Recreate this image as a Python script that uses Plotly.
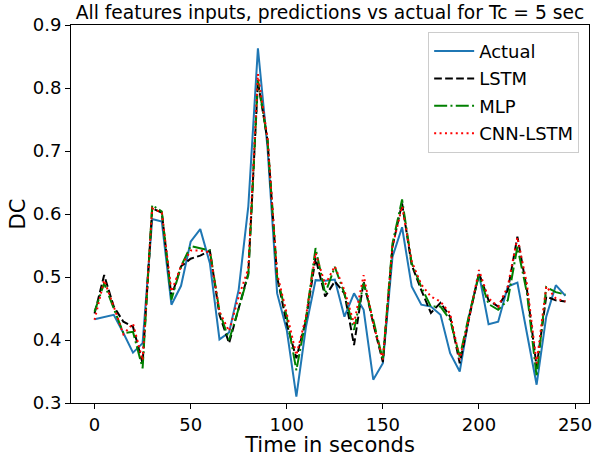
import plotly.graph_objects as go

time_s = list(range(0, 250, 5))

actual = [0.433, 0.436, 0.440, 0.411, 0.380, 0.395, 0.592, 0.588, 0.456, 0.486,
          0.556, 0.576, 0.522, 0.401, 0.412, 0.480, 0.612, 0.863, 0.705, 0.474,
          0.416, 0.310, 0.421, 0.495, 0.494, 0.496, 0.437, 0.474, 0.448, 0.337,
          0.363, 0.532, 0.579, 0.485, 0.456, 0.453, 0.440, 0.379, 0.350, 0.440,
          0.505, 0.425, 0.429, 0.485, 0.491, 0.410, 0.329, 0.437, 0.487, 0.470]

lstm = [0.442, 0.503, 0.453, 0.429, 0.421, 0.363, 0.609, 0.602, 0.469, 0.517,
        0.529, 0.534, 0.542, 0.440, 0.395, 0.450, 0.506, 0.810, 0.717, 0.500,
        0.426, 0.371, 0.432, 0.530, 0.469, 0.493, 0.474, 0.392, 0.493, 0.426,
        0.365, 0.548, 0.617, 0.519, 0.479, 0.443, 0.459, 0.437, 0.363, 0.437,
        0.506, 0.463, 0.453, 0.479, 0.564, 0.479, 0.357, 0.469, 0.463, 0.461]

mlp = [0.445, 0.490, 0.450, 0.411, 0.413, 0.355, 0.614, 0.604, 0.464, 0.517,
       0.549, 0.545, 0.542, 0.445, 0.400, 0.450, 0.503, 0.813, 0.717, 0.500,
       0.437, 0.352, 0.434, 0.546, 0.474, 0.516, 0.474, 0.416, 0.490, 0.432,
       0.368, 0.553, 0.623, 0.522, 0.484, 0.453, 0.453, 0.432, 0.373, 0.442,
       0.503, 0.457, 0.448, 0.463, 0.548, 0.474, 0.342, 0.484, 0.476, 0.472]

cnn_lstm = [0.432, 0.495, 0.453, 0.409, 0.426, 0.368, 0.609, 0.602, 0.477, 0.517,
            0.542, 0.542, 0.539, 0.445, 0.414, 0.469, 0.513, 0.822, 0.720, 0.505,
            0.442, 0.376, 0.437, 0.538, 0.488, 0.517, 0.479, 0.426, 0.503, 0.426,
            0.369, 0.548, 0.612, 0.525, 0.488, 0.469, 0.461, 0.442, 0.369, 0.437,
            0.511, 0.466, 0.453, 0.485, 0.563, 0.488, 0.363, 0.485, 0.466, 0.461]

series_names = ["Actual", "LSTM", "MLP", "CNN-LSTM"]
x_ticks = [0, 50, 100, 150, 200, 250]
y_ticks = [0.3, 0.4, 0.5, 0.6, 0.7, 0.8, 0.9]

FONT = "DejaVu Sans"
W, H = 596, 457
styles = [
    dict(color="#1f77b4", width=2, dash="solid"),
    dict(color="#000000", width=2, dash="7.7px,3.3px"),
    dict(color="#008000", width=2, dash="13px,3.3px,2px,3.3px"),
    dict(color="#ff0000", width=2, dash="2px,3.4px"),
]

fig = go.Figure()
for name, ys, st in zip(series_names, [actual, lstm, mlp, cnn_lstm], styles):
    fig.add_trace(go.Scatter(x=time_s, y=ys, mode="lines", name=name,
                             legendgroup=name, line=st))

axis_common = dict(
    showgrid=False, zeroline=False, showline=True, mirror=True,
    linecolor="black", linewidth=1, ticks="outside", ticklen=5, tickwidth=1,
    tickcolor="black", tickfont=dict(family=FONT, size=18, color="black"),
)

fig.update_layout(
    width=W, height=H,
    margin=dict(l=71, r=4, t=25, b=54),
    paper_bgcolor="white", plot_bgcolor="white",
    font=dict(family=FONT, color="black"),
    title=dict(text="All features inputs, predictions vs actual for Tc = 5 sec",
               font=dict(family=FONT, size=18.7, color="black"),
               x=0.5, xref="paper", xanchor="center",
               y=1 - 12 / H, yref="container", yanchor="middle"),
    xaxis=dict(range=[-12.25, 257.25], tickvals=x_ticks,
               title=dict(text="Time in seconds", font=dict(family=FONT, size=21),
                          standoff=4),
               **axis_common),
    yaxis=dict(range=[0.3, 0.9], tickvals=y_ticks, tickformat=".1f",
               title=dict(text="DC", font=dict(family=FONT, size=21), standoff=1),
               **axis_common),
    legend=dict(x=0.981, y=0.982, xanchor="right", yanchor="top",
                bgcolor="rgba(255,255,255,0.8)", bordercolor="#cccccc", borderwidth=1,
                font=dict(family=FONT, size=18, color="black"),
                tracegroupgap=1, itemwidth=40),
    showlegend=True,
)

fig.write_html("out.html")
